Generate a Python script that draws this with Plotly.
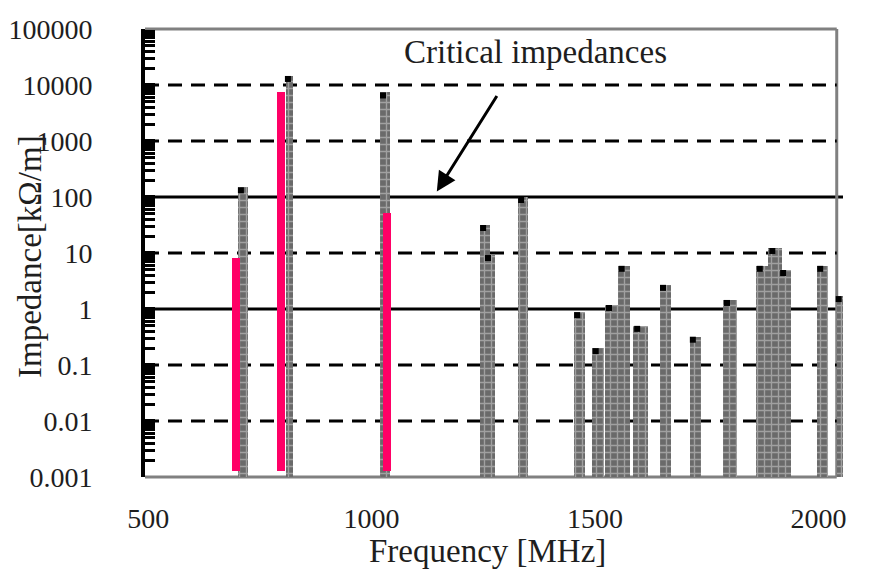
import math
import plotly.graph_objects as go

# ---------------- data ----------------
gray_freq = [712, 816, 1030, 1254, 1265, 1339, 1465, 1507, 1538, 1565, 1601,
             1657, 1724, 1802, 1874, 1903, 1926, 2009, 2048]
gray_top = [149, 14500, 7360, 31.6, 9.2, 100, 0.88, 0.2, 1.18, 5.9, 0.5,
            2.7, 0.32, 1.45, 5.9, 12.3, 4.97, 5.9, 1.7]
gray_width = [22, 16, 22, 22, 22, 22, 25, 27, 33, 26, 33, 24, 25, 33, 26, 31, 25, 25, 13]

pink_freq = [697, 798, 1034]
pink_top = [8.1, 7600, 52]
pink_width = [18, 18, 18]

x_ticks = [500, 1000, 1500, 2000]
y_ticks = [0.001, 0.01, 0.1, 1, 10, 100, 1000, 10000, 100000]
y_ticktext = ["0.001", "0.01", "0.1", "1", "10", "100", "1000", "10000", "100000"]
dashed_levels = [0.01, 0.1, 10, 1000, 10000]
critical_levels = [1, 100]

x_range = [493, 2055]
x_border = 2041
gray_base = 0.0005
pink_base = 0.0013

FONT = "Liberation Serif"
TXT = "#1e1e1e"

fig = go.Figure()

fig.add_trace(go.Bar(
    x=gray_freq, y=[t - gray_base for t in gray_top], base=gray_base,
    width=gray_width,
    marker=dict(color="#6a6a6a", line=dict(width=0),
                pattern=dict(shape="+", fgcolor="#d6d6d6", bgcolor="#6a6a6a",
                             size=7, solidity=0.35)),
    hoverinfo="skip"))

fig.add_trace(go.Bar(
    x=pink_freq, y=[t - pink_base for t in pink_top], base=pink_base,
    width=pink_width, marker=dict(color="#FF0066", line=dict(width=0)),
    hoverinfo="skip"))

# black caps on top of gray bars
fig.add_trace(go.Scatter(
    x=[f - 0.2 * w for f, w in zip(gray_freq, gray_width)],
    y=[t * 10 ** (-3 / 56) for t in gray_top],
    mode="markers", marker=dict(symbol="square", size=6, color="black"),
    hoverinfo="skip"))

shapes = []
for v in dashed_levels:
    shapes.append(dict(type="line", xref="x", yref="y", x0=x_range[0], x1=x_border,
                       y0=v, y1=v, layer="below",
                       line=dict(color="black", width=3, dash="14px,9px")))
for v in critical_levels:
    shapes.append(dict(type="line", xref="x domain", yref="y", x0=0, x1=1,
                       y0=v, y1=v, layer="below",
                       line=dict(color="black", width=3)))
# frame (gray)
shapes.append(dict(type="line", xref="x", yref="y domain", x0=x_range[0], x1=x_border,
                   y0=1, y1=1, layer="below", line=dict(color="#808080", width=3)))
shapes.append(dict(type="line", xref="x", yref="y domain", x0=x_range[0], x1=x_border,
                   y0=0, y1=0, layer="below", line=dict(color="#808080", width=3)))
shapes.append(dict(type="line", xref="x", yref="y domain", x0=x_border, x1=x_border,
                   y0=0, y1=1, layer="below", line=dict(color="#808080", width=3)))

annotations = [
    dict(text="Critical impedances", xref="x", yref="paper", x=1366, y=0.949,
         xanchor="center", yanchor="middle",
         showarrow=False, font=dict(family=FONT, size=33, color=TXT)),
    dict(text="", xref="x", yref="y", x=1146, y=math.log10(125), ax=61, ay=-97,
         showarrow=True, arrowhead=2, arrowsize=1.3, arrowwidth=3, arrowcolor="black"),
    dict(text="Impedance[kΩ/m]", xref="paper", yref="paper", x=-0.165, y=0.493,
         xanchor="center", yanchor="middle",
         textangle=-90, showarrow=False, font=dict(family=FONT, size=33, color=TXT)),
    dict(text="Frequency [MHz]", xref="paper", yref="paper", x=0.491, y=-0.166,
         xanchor="center", yanchor="middle",
         showarrow=False, font=dict(family=FONT, size=33, color=TXT)),
]

fig.update_layout(
    width=874, height=571,
    margin=dict(l=145, r=31, t=29, b=94),
    paper_bgcolor="white", plot_bgcolor="white",
    showlegend=False, barmode="overlay", bargap=0,
    shapes=shapes, annotations=annotations,
    font=dict(family=FONT, size=28, color=TXT),
)
fig.update_xaxes(range=x_range, tickvals=x_ticks, ticktext=[str(v) for v in x_ticks],
                 ticks="", showgrid=False, zeroline=False, showline=False,
                 automargin=False,
                 tickfont=dict(family=FONT, size=28, color=TXT), ticklabelstandoff=22)
fig.update_yaxes(type="log", range=[-3, 5], tickvals=y_ticks, ticktext=y_ticktext,
                 ticks="inside", ticklen=10, tickwidth=4, tickcolor="black",
                 minor=dict(ticks="inside", ticklen=10, tickwidth=3, tickcolor="black",
                            dtick="D1", showgrid=False),
                 showgrid=False, zeroline=False, showline=True, linecolor="black",
                 linewidth=4, automargin=False,
                 tickfont=dict(family=FONT, size=28, color=TXT),
                 ticklabelstandoff=43)

fig.write_html("out.html")
